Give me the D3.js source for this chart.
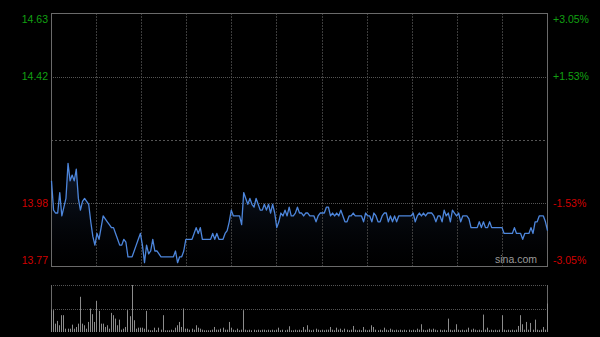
<!DOCTYPE html>
<html>
<head>
<meta charset="utf-8">
<script src="https://cdn.jsdelivr.net/npm/d3@7"></script>
<style>
  html, body { margin: 0; padding: 0; background: #000; }
  svg { display: block; }
</style>
</head>
<body>
<svg id="chart" width="600" height="337"></svg>
<script>
const prevClose = 14.20
const pctLevels = [3.05, 1.53, -1.53, -3.05]
const priceLabels = ['14.63', '14.42', '13.98', '13.77']
const pctLabels = ['+3.05%', '+1.53%', '-1.53%', '-3.05%']

const prices = [
    14.06, 13.96, 13.95, 13.95, 14.02, 13.94, 13.97, 14.00, 14.12, 14.06,
    14.08, 14.06, 14.10, 14.00, 13.96, 13.99, 14.00, 13.99, 13.98, 13.92,
    13.87, 13.84, 13.88, 13.86, 13.90, 13.94, 13.93, 13.92, 13.91, 13.90,
    13.90, 13.88, 13.86, 13.84, 13.84, 13.86, 13.85, 13.80, 13.80, 13.80,
    13.82, 13.84, 13.86, 13.88, 13.84, 13.78, 13.84, 13.81, 13.82, 13.86,
    13.82, 13.82, 13.81, 13.80, 13.80, 13.80, 13.80, 13.80, 13.80, 13.80,
    13.82, 13.78, 13.80, 13.80, 13.82, 13.86, 13.86, 13.86, 13.86, 13.88,
    13.90, 13.88, 13.90, 13.86, 13.86, 13.86, 13.86, 13.86, 13.88, 13.86,
    13.88, 13.86, 13.86, 13.86, 13.88, 13.89, 13.92, 13.96, 13.94, 13.94,
    13.94, 13.94, 13.91, 14.02, 14.00, 13.98, 14.00, 13.98, 13.97, 14.00,
    13.98, 13.96, 13.96, 13.98, 13.96, 13.98, 13.95, 13.98, 13.95, 13.90,
    13.92, 13.95, 13.94, 13.96, 13.94, 13.97, 13.94, 13.94, 13.95, 13.97,
    13.95, 13.95, 13.94, 13.95, 13.95, 13.94, 13.94, 13.94, 13.92, 13.94,
    13.95, 13.95, 13.95, 13.97, 13.97, 13.94, 13.95, 13.94, 13.95, 13.94,
    13.96, 13.94, 13.92, 13.92, 13.94, 13.94, 13.95, 13.94, 13.94, 13.94,
    13.94, 13.92, 13.95, 13.94, 13.94, 13.92, 13.95, 13.94, 13.92, 13.92,
    13.94, 13.95, 13.95, 13.92, 13.94, 13.92, 13.94, 13.92, 13.94, 13.94,
    13.94, 13.94, 13.94, 13.94, 13.94, 13.95, 13.92, 13.94, 13.95, 13.94,
    13.95, 13.94, 13.95, 13.95, 13.95, 13.94, 13.92, 13.94, 13.94, 13.92,
    13.96, 13.94, 13.95, 13.92, 13.96, 13.95, 13.94, 13.95, 13.92, 13.94,
    13.94, 13.94, 13.93, 13.90, 13.90, 13.90, 13.90, 13.92, 13.90, 13.92,
    13.90, 13.90, 13.92, 13.90, 13.90, 13.90, 13.90, 13.90, 13.90, 13.88,
    13.88, 13.88, 13.88, 13.88, 13.90, 13.88, 13.88, 13.88, 13.86, 13.88,
    13.88, 13.88, 13.90, 13.88, 13.92, 13.92, 13.94, 13.94, 13.94, 13.92,
    13.89
]

const volumes = [
    2230, 2170, 830, 1100, 670, 1670, 1670, 330, 330, 330,
    730, 330, 500, 830, 3500, 830, 670, 330, 1000, 2330,
    1770, 1000, 3100, 2100, 830, 830, 500, 670, 330, 1900,
    1670, 1330, 670, 1230, 230, 330, 500, 2170, 1570, 4670,
    1170, 330, 430, 430, 430, 330, 2100, 230, 170, 170,
    430, 170, 430, 230, 1670, 170, 170, 170, 230, 170,
    430, 670, 1000, 500, 2330, 330, 330, 230, 330, 230,
    670, 430, 330, 230, 170, 170, 170, 170, 230, 500,
    230, 230, 330, 430, 230, 230, 1000, 430, 230, 170,
    330, 170, 230, 2170, 230, 170, 230, 170, 230, 170,
    230, 170, 230, 230, 170, 230, 170, 230, 170, 230,
    430, 170, 230, 170, 230, 570, 170, 170, 230, 170,
    230, 170, 500, 230, 670, 230, 170, 230, 330, 230,
    170, 230, 170, 230, 230, 500, 230, 170, 430, 230,
    330, 170, 330, 230, 170, 230, 600, 230, 170, 230,
    170, 500, 230, 170, 230, 670, 500, 230, 170, 230,
    170, 430, 230, 170, 330, 230, 170, 230, 170, 230,
    170, 230, 170, 230, 170, 230, 170, 330, 230, 770,
    230, 170, 230, 330, 230, 330, 230, 170, 230, 170,
    230, 170, 1330, 230, 170, 230, 770, 230, 170, 230,
    170, 230, 430, 230, 330, 230, 170, 230, 170, 1730,
    230, 430, 170, 230, 170, 230, 170, 230, 1670, 230,
    170, 230, 170, 230, 170, 230, 600, 1670, 770, 230,
    1000, 230, 900, 230, 1230, 230, 170, 230, 500, 230,
    2830
]

const box = { left: 51, right: 547, top: 13, bottom: 266, volTop: 285, volBottom: 332 }
const divisions = 11
const colors = { up: '#12a012', down: '#d00000', line: '#4d86dc', border: '#6a6a6a', grid: '#555', vgrid: '#3c3c3c', bar: '#8c8c8c' }

const svg = d3.select('#chart')
const crisp = v => Math.round(v) + 0.5

const x = d3.scaleLinear()
    .domain([0, prices.length - 1])
    .range([box.left + 0.5, box.right + 0.5])

const y = d3.scaleLinear()
    .domain([prevClose * (1 - 0.0305), prevClose * (1 + 0.0305)])
    .range([box.bottom + 0.5, box.top + 0.5])

const yVol = d3.scaleLinear()
    .domain([0, d3.max(volumes)])
    .range([box.volBottom, box.volTop])

// fill under the price line
const grad = svg.append('defs').append('linearGradient')
    .attr('id', 'fade')
    .attr('gradientUnits', 'userSpaceOnUse')
    .attr('x1', 0).attr('x2', 0)
    .attr('y1', y(d3.max(prices))).attr('y2', box.bottom)
grad.append('stop').attr('offset', 0).attr('stop-color', '#1b2c4c').attr('stop-opacity', 0.6)
grad.append('stop').attr('offset', 1).attr('stop-color', '#000').attr('stop-opacity', 0.2)

const area = d3.area()
    .x((d, i) => x(i))
    .y0(box.bottom)
    .y1(d => y(d))

svg.append('path')
    .attr('d', area(prices))
    .attr('fill', 'url(#fade)')

// vertical grid (half hour steps)
const vTicks = d3.range(1, divisions).map(k => crisp(box.left + k * (box.right - box.left) / divisions))
svg.append('g')
    .selectAll('line')
    .data(vTicks)
    .enter()
        .append('line')
        .attr('x1', d => d).attr('x2', d => d)
        .attr('y1', box.top).attr('y2', box.bottom)
        .attr('stroke', colors.vgrid)
        .attr('stroke-dasharray', '2,1')

// horizontal grid at the % levels and the previous close
const hLevels = [pctLevels[1], 0, pctLevels[2]]
svg.append('g')
    .selectAll('line')
    .data(hLevels)
    .enter()
        .append('line')
        .attr('x1', box.left).attr('x2', box.right)
        .attr('y1', d => crisp(y(prevClose * (1 + d / 100))))
        .attr('y2', d => crisp(y(prevClose * (1 + d / 100))))
        .attr('stroke', colors.grid)
        .attr('stroke-dasharray', d => d === 0 ? '2,2' : '1,1')

svg.append('rect')
    .attr('x', box.left + 0.5).attr('y', box.top + 0.5)
    .attr('width', box.right - box.left).attr('height', box.bottom - box.top)
    .attr('fill', 'none')
    .attr('stroke', colors.border)

const line = d3.line()
    .x((d, i) => x(i))
    .y(d => y(d))

svg.append('path')
    .attr('d', line(prices))
    .attr('fill', 'none')
    .attr('stroke', colors.line)
    .attr('stroke-width', 1.3)
    .attr('stroke-linejoin', 'round')

// axis labels
const labelY = d => {
    const v = y(prevClose * (1 + d / 100))
    return Math.min(Math.max(v, box.top + 6), box.bottom - 6)
}
const font = '"Liberation Sans", Arial, sans-serif'

svg.append('g')
    .selectAll('text')
    .data(pctLevels)
    .enter()
        .append('text')
        .attr('x', box.left - 3)
        .attr('y', d => labelY(d))
        .attr('dy', '0.35em')
        .attr('text-anchor', 'end')
        .attr('font-family', font)
        .attr('font-size', 10.5)
        .attr('fill', d => d > 0 ? colors.up : colors.down)
        .text((d, i) => priceLabels[i])

svg.append('g')
    .selectAll('text')
    .data(pctLevels)
    .enter()
        .append('text')
        .attr('x', box.right + 6)
        .attr('y', d => labelY(d))
        .attr('dy', '0.35em')
        .attr('font-family', font)
        .attr('font-size', 10.5)
        .attr('fill', d => d > 0 ? colors.up : colors.down)
        .text((d, i) => pctLabels[i])

svg.append('text')
    .attr('x', box.right - 10)
    .attr('y', box.bottom - 3)
    .attr('text-anchor', 'end')
    .attr('font-family', font)
    .attr('font-size', 10.5)
    .attr('fill', '#9a9a9a')
    .text('sina.com')

// volume panel
const vol = svg.append('g').attr('class', 'volume')

vol.selectAll('line.guide')
    .data([box.volTop, (box.volTop + box.volBottom) / 2])
    .enter()
        .append('line')
        .attr('class', 'guide')
        .attr('x1', box.left).attr('x2', box.right)
        .attr('y1', d => crisp(d)).attr('y2', d => crisp(d))
        .attr('stroke', colors.grid)
        .attr('stroke-dasharray', '1,1')

vol.selectAll('line.side')
    .data([box.left, box.right])
    .enter()
        .append('line')
        .attr('class', 'side')
        .attr('x1', d => d + 0.5).attr('x2', d => d + 0.5)
        .attr('y1', box.volTop).attr('y2', box.volBottom)
        .attr('stroke', colors.border)

vol.selectAll('rect')
    .data(volumes)
    .enter()
        .append('rect')
        .attr('x', (d, i) => Math.floor(x(i)))
        .attr('y', d => yVol(d))
        .attr('width', 1)
        .attr('height', d => box.volBottom - yVol(d))
        .attr('fill', colors.bar)
</script>
</body>
</html>
